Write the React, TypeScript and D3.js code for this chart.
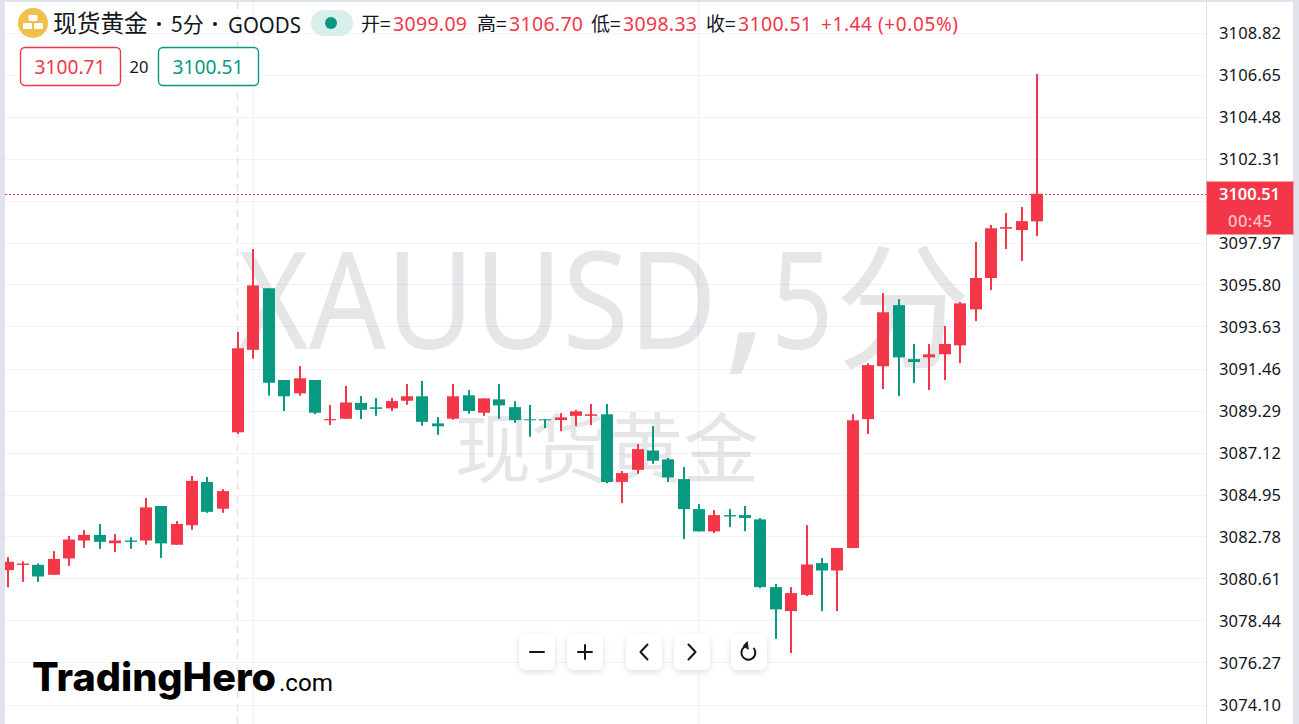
import React from "react";
import * as d3 from "d3";

const opens = [3081.07,3081.34,3081.34,3080.83,3081.67,3082.60,3082.89,3082.46,3082.60,3082.60,3084.38,3082.38,3083.39,3085.62,3084.24,3088.19,3092.45,3095.63,3090.89,3090.20,3090.89,3088.81,3088.89,3089.71,3089.48,3089.43,3089.82,3090.05,3088.65,3088.89,3090.10,3089.20,3089.89,3089.49,3088.86,3088.86,3088.82,3089.04,3089.04,3089.12,3085.63,3086.25,3087.25,3086.79,3085.77,3084.22,3083.07,3083.91,3083.91,3083.69,3080.19,3078.95,3079.79,3081.43,3081.05,3082.21,3088.87,3091.60,3094.76,3091.97,3092.06,3092.22,3092.68,3094.54,3096.16,3098.71,3098.64,3099.09];
const highs = [3081.74,3081.52,3081.41,3082.05,3082.83,3083.14,3083.45,3082.93,3082.77,3084.79,3084.38,3083.60,3085.93,3085.88,3085.25,3093.37,3097.66,3095.63,3090.89,3091.61,3090.89,3089.60,3090.58,3090.06,3089.96,3089.96,3090.68,3090.84,3088.98,3090.68,3090.37,3089.94,3090.68,3089.80,3089.60,3088.86,3089.18,3089.34,3089.65,3089.65,3086.19,3087.58,3088.51,3086.86,3086.39,3084.48,3084.17,3084.22,3084.38,3083.76,3080.35,3080.19,3083.39,3081.69,3082.21,3089.13,3091.75,3095.38,3095.07,3092.75,3092.75,3093.68,3094.92,3098.02,3098.90,3099.52,3099.83,3106.70];
const lows = [3080.19,3080.46,3080.46,3080.83,3081.29,3082.22,3082.17,3082.01,3082.17,3082.38,3081.70,3082.38,3083.15,3084.03,3084.03,3088.11,3091.99,3090.08,3089.29,3090.08,3089.13,3088.56,3088.89,3088.87,3089.04,3089.29,3089.61,3088.53,3088.06,3088.84,3089.15,3089.04,3088.89,3088.68,3087.96,3088.41,3088.25,3088.51,3088.56,3085.56,3084.53,3086.04,3086.56,3085.62,3082.67,3083.07,3082.98,3083.29,3083.08,3080.14,3077.52,3076.79,3079.73,3078.95,3078.95,3082.21,3088.10,3090.42,3090.06,3090.73,3090.37,3090.89,3091.77,3093.94,3095.54,3097.66,3097.04,3098.33];
const closes = [3081.50,3081.41,3080.74,3081.65,3082.65,3082.89,3082.53,3082.60,3082.53,3084.31,3082.45,3083.45,3085.68,3084.08,3085.15,3092.53,3095.78,3090.75,3090.05,3090.98,3089.20,3088.87,3089.73,3089.35,3089.40,3089.80,3090.05,3088.73,3088.50,3090.05,3089.29,3089.94,3089.58,3088.82,3088.81,3088.81,3088.96,3089.27,3089.12,3085.62,3086.08,3087.32,3086.72,3085.86,3084.22,3083.07,3083.91,3083.84,3083.76,3080.19,3079.04,3079.88,3081.36,3081.05,3082.21,3088.81,3091.66,3094.39,3092.06,3091.82,3092.22,3092.75,3094.85,3096.16,3098.73,3098.79,3099.10,3100.51];
const priceTicks = [3108.82,3106.65,3104.48,3102.31,3097.97,3095.80,3093.63,3091.46,3089.29,3087.12,3084.95,3082.78,3080.61,3078.44,3076.27,3074.10];
const hiddenGridTicks = [3100.14];
const verticalGridBars = [16, 45];
const lastPrice = 3100.51;
const ohlcLabels = [
  { label: "开=", value: "3099.09" },
  { label: "高=", value: "3106.70" },
  { label: "低=", value: "3098.33" },
  { label: "收=", value: "3100.51" },
];
const ohlcX = [361, 477, 591, 706];

const RED = "#F43649";
const GREEN = "#089981";
const GRID = "#F1F3F9";
const EDGE = "#E0E3EB";
const LATIN = "'Noto Sans','Noto Sans CJK SC',sans-serif";
const CJK = "'Noto Sans CJK SC','Noto Sans',sans-serif";

const y = d3.scaleLinear().domain([3074.1, 3108.82]).range([705, 33]);
const x = d3.scaleLinear().domain([0, 67]).range([7.6, 1037]);
const BODY = 12;

const candles = opens.map((o, i) => ({ i, o, h: highs[i], l: lows[i], c: closes[i], up: closes[i] >= o }));

function Btn({ cx, children }: { cx: number; children: React.ReactNode }) {
  return (
    <g transform={`translate(${cx},652)`}>
      <rect x={-18} y={-18} width={36} height={36} rx={7} fill="#fff" filter="url(#btnShadow)" />
      <g fill="none" stroke="#131722" strokeWidth={2} strokeLinecap="round" strokeLinejoin="round">{children}</g>
    </g>
  );
}

export default function App() {
  const lastY = y(lastPrice);
  const wm = { fill: "#787B86", fillOpacity: 0.19 };
  return (
    <svg width={1299} height={724} viewBox="0 0 1299 724"
      style={{ position: "fixed", left: 0, top: 0, display: "block", background: "#fff" }}>
      <defs>
        <filter id="btnShadow" x="-40%" y="-40%" width="180%" height="180%">
          <feDropShadow dx={0} dy={2} stdDeviation={3} floodColor="#000" floodOpacity={0.13} />
        </filter>
      </defs>

      {/* grid */}
      {[...priceTicks, ...hiddenGridTicks].map((t) => (
        <line key={t} x1={5} x2={1206} y1={Math.floor(y(t)) + 0.5} y2={Math.floor(y(t)) + 0.5} stroke={GRID} />
      ))}
      {verticalGridBars.map((b) => (
        <line key={b} x1={Math.floor(x(b)) + 0.5} x2={Math.floor(x(b)) + 0.5} y1={2} y2={724} stroke={GRID} strokeWidth={1.5} />
      ))}

      {/* watermark */}
      <text transform="translate(238,349) scale(0.888,1)" fontFamily={LATIN} fontSize={136} {...wm}>XAUUSD</text>
      <text x={723} y={352} fontFamily={LATIN} fontSize={170} {...wm}>,</text>
      <text transform="translate(771,349) scale(0.8,1)" fontFamily={LATIN} fontSize={136} {...wm}>5</text>
      <text x={835} y={358} fontFamily={CJK} fontSize={136} {...wm}>分</text>
      <text x={607} y={477} textAnchor="middle" fontFamily={CJK} fontSize={76} {...wm}>现货黄金</text>

      <line x1={237.5} x2={237.5} y1={2} y2={724} stroke={EDGE} strokeWidth={1.5} strokeDasharray="7 6" />

      {/* price line */}
      <line x1={5} x2={1206} y1={Math.round(lastY) + 0.5} y2={Math.round(lastY) + 0.5} stroke={RED} strokeDasharray="2 2" />

      {/* candles */}
      {candles.map((d) => {
        const color = d.up ? RED : GREEN;
        const top = y(Math.max(d.o, d.c));
        const bottom = y(Math.min(d.o, d.c));
        const cx = Math.round(x(d.i));
        return (
          <g key={d.i}>
            <rect x={cx - 1} width={2} y={y(d.h)} height={y(d.l) - y(d.h)} fill={color} />
            <rect x={cx - BODY / 2} width={BODY} y={top} height={Math.max(bottom - top, 1)} fill={color} />
          </g>
        );
      })}

      {/* frame */}
      <rect x={0} y={0} width={1299} height={2} fill={EDGE} />
      <rect x={0} y={0} width={5} height={724} fill={EDGE} />
      <rect x={1206} y={0} width={1} height={724} fill={EDGE} />
      <rect x={1293} y={0} width={6} height={724} fill={EDGE} />

      {/* axis labels */}
      {priceTicks.map((t) => (
        <text key={t} x={1219} y={y(t) + 6.2} fontFamily={LATIN} fontSize={16.5} fill="#131722"
          textLength={62} lengthAdjust="spacing">{t.toFixed(2)}</text>
      ))}
      <rect x={1206.5} y={181.5} width={87} height={53} fill={RED} stroke="#F79AA4" />
      <text x={1219} y={lastY + 6.2} fontFamily={LATIN} fontSize={16.5} fontWeight={600} fill="#fff"
        textLength={61} lengthAdjust="spacing">{lastPrice.toFixed(2)}</text>
      <text x={1228} y={226.7} fontFamily={LATIN} fontSize={16.5} fontWeight={500} fill="#FBC3C9"
        textLength={44} lengthAdjust="spacing">00:45</text>

      {/* header */}
      <circle cx={33} cy={23} r={15} fill="#F1BF4C" />
      <g fill="#fff">
        <rect x={28.5} y={15} width={9} height={6} rx={1} />
        <rect x={23} y={23} width={9} height={6} rx={1} />
        <rect x={34} y={23} width={9} height={6} rx={1} />
      </g>
      <text x={53} y={32} fontFamily={CJK} fontSize={23.7} fill="#131722">现货黄金</text>
      <circle cx={159} cy={24} r={2} fill="#131722" />
      <text x={171} y={32} fontFamily={CJK} fontSize={21} fill="#131722">5分</text>
      <circle cx={215} cy={24} r={2} fill="#131722" />
      <text x={228} y={32.5} fontFamily={LATIN} fontSize={22} fill="#131722" textLength={73} lengthAdjust="spacingAndGlyphs">GOODS</text>
      <rect x={311} y={10} width={42} height={26} rx={13} fill="#D9EFEB" />
      <circle cx={331} cy={23} r={6} fill={GREEN} />

      {ohlcLabels.map((d, i) => (
        <g key={d.label}>
          <text x={ohlcX[i]} y={31} fontFamily={CJK} fontSize={19} fill="#131722">{d.label}</text>
          <text x={ohlcX[i] + 32} y={30.7} fontFamily={LATIN} fontSize={19.5} fill={RED} textLength={74} lengthAdjust="spacing">{d.value}</text>
        </g>
      ))}
      <text x={821} y={30.7} fontFamily={LATIN} fontSize={19} fill={RED} textLength={137} lengthAdjust="spacing">+1.44 (+0.05%)</text>

      <rect x={20.5} y={47.5} width={100} height={38} rx={4.5} fill="#fff" stroke={RED} strokeWidth={1.4} />
      <text x={34.5} y={74} fontFamily={LATIN} fontSize={20} fill={RED} textLength={71} lengthAdjust="spacingAndGlyphs">3100.71</text>
      <text x={139} y={73.3} textAnchor="middle" fontFamily={LATIN} fontSize={16.5} fill="#131722">20</text>
      <rect x={158.5} y={47.5} width={100} height={38} rx={4.5} fill="#fff" stroke={GREEN} strokeWidth={1.4} />
      <text x={172.5} y={74} fontFamily={LATIN} fontSize={20} fill={GREEN} textLength={71} lengthAdjust="spacingAndGlyphs">3100.51</text>

      {/* controls */}
      <Btn cx={537}><path d="M-7 0H7" /></Btn>
      <Btn cx={585}><path d="M-7 0H7M0 -7V7" /></Btn>
      <Btn cx={644}><path d="M3.5 -7.5L-3.5 0L3.5 7.5" /></Btn>
      <Btn cx={692}><path d="M-3.5 -7.5L3.5 0L-3.5 7.5" /></Btn>
      <Btn cx={749}>
        <path d="M-2 -6.2A7 7 0 1 0 5 -3.5" />
        <path d="M-2 -10L-5.5 -6.2L-1 -3Z" fill="#131722" strokeWidth={1} />
      </Btn>

      {/* logo */}
      <text x={32} y={691} fontFamily="Inter, Lato, sans-serif" fontWeight={800} fontSize={39} fill="#000"
        textLength={244} lengthAdjust="spacingAndGlyphs">TradingHero</text>
      <text x={279} y={691} fontFamily="Roboto, sans-serif" fontSize={24} fill="#000" textLength={54} lengthAdjust="spacingAndGlyphs">.com</text>
    </svg>
  );
}
